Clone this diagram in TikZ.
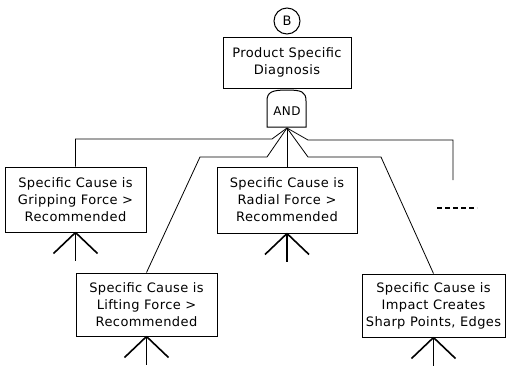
\documentclass[tikz,border=0pt]{standalone}
\usepackage{fontspec}
\newfontfamily\plotfont[LetterSpace=3]{DejaVu Sans}
\begin{document}
\begin{tikzpicture}[x=1pt,y=-1pt,
  box/.style={draw, line width=1pt, minimum width=141pt, minimum height=65pt, align=center, inner sep=0pt, font=\plotfont\fontsize{13}{17}\selectfont},
  conn/.style={line width=0.8pt},
  xfer/.style={line width=1.6pt}]
\useasboundingbox (0,0) rectangle (507,367);
\node[circle, draw, line width=1pt, minimum size=26pt, inner sep=0pt, font=\plotfont\fontsize{13}{15}\selectfont] (b) at (287,21) {B};
\node[box, minimum width=128pt, minimum height=51pt] (psd) at (287,62.5) {Product Specific\\Diagnosis};
\draw[line width=1pt] (267,127) -- (267,101) .. controls (267,92) and (272,90) .. (287,90) .. controls (302,90) and (306,92) .. (306,101) -- (306,127) -- cycle;
\node[font=\plotfont\fontsize{12}{14}\selectfont, inner sep=0pt] (and) at (287,111) {AND};
\coordinate (apex) at (287,128);
\node[box] (grip) at (75.5,199.5) {Specific Cause is\\Gripping Force >\\Recommended};
\node[box, minimum width=140pt, minimum height=66pt] (radial) at (287,200) {Specific Cause is\\Radial Force >\\Recommended};
\node[box, minimum height=63pt] (lift) at (146.5,304.5) {Specific Cause is\\Lifting Force >\\Recommended};
\node[box, minimum width=143pt, minimum height=63pt] (impact) at (433.5,305.5) {Specific Cause is\\Impact Creates\\Sharp Points, Edges};
\coordinate (more) at (453,180);
\draw[conn] (apex) -- (272,139) -| (grip.north);
\draw[conn] (apex) -- (267,157) -- (200,157) -- (lift.north);
\draw[conn] (apex) -- (radial.north);
\draw[conn] (apex) -- (308,157) -- (381,157) -- (impact.north);
\draw[conn] (apex) -- (308,140) -| (more);
\coordinate (d1) at (437,208);
\coordinate (d2) at (477,208);
\draw[line width=1.1pt, dash pattern=on 5pt off 3pt] (d1) -- (d2);
\foreach \n in {grip,radial,lift,impact}{
  \draw[xfer] (\n.south) -- ++(0,28);
  \draw[xfer] (\n.south) -- ++(-22,21);
  \draw[xfer] (\n.south) -- ++(22,21);
}
\end{tikzpicture}
\end{document}
